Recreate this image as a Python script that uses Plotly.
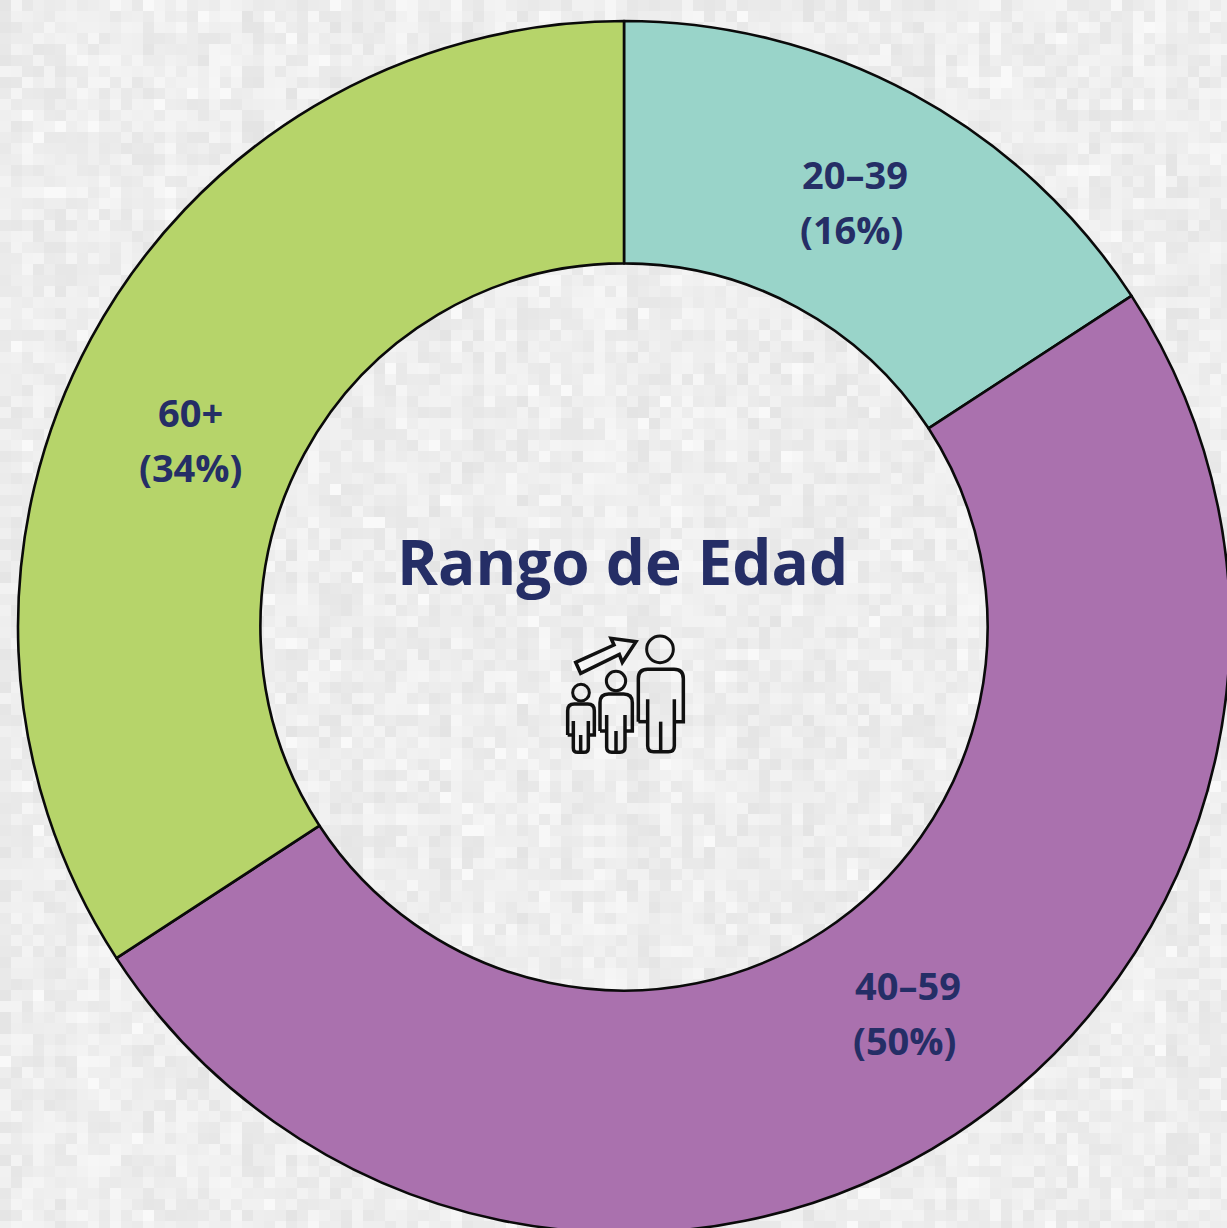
import base64, math, struct, zlib
import plotly.graph_objects as go

# ---- data ----
age_groups = ["20–39", "40–59", "60+"]
shares = [15.8, 50.0, 34.2]
slice_colors = ["#99d4c9", "#aa71ae", "#b6d46a"]
title_text = "Rango de Edad"

# ---- canvas (slightly larger than the window: the ring is cropped right/bottom) ----
W, H = 1230, 1234
INK = "#252e66"
FONT = "Open Sans"

def X(px):
    return px / W

def Y(py):
    return 1 - py / H

def path(points):
    return " ".join(
        f"{cmd}{' '.join(f'{X(540 + a / 3):.5f},{Y(620 + b / 3):.5f}' for a, b in pts)}"
        for cmd, pts in points
    )

def person(l, r, il, ir, top, arm, armtop, bot, c, a, b):
    """Outline of a person, in units of the zoomed icon."""
    return [
        path([("M", [(l, arm)]), ("L", [(l, top + a)]), ("Q", [(l, top), (l + a, top)]),
              ("L", [(r - a, top)]), ("Q", [(r, top), (r, top + a)]), ("L", [(r, arm)]),
              ("L", [(ir, arm)])]),
        path([("M", [(ir, armtop)]), ("L", [(ir, bot - b)]), ("Q", [(ir, bot), (ir - b, bot)]),
              ("L", [(il + b, bot)]), ("Q", [(il, bot), (il, bot - b)]), ("L", [(il, armtop)])]),
        path([("M", [(il, arm)]), ("L", [(l, arm)])]),
        path([("M", [(c, arm)]), ("L", [(c, bot)])]),
    ]

def head(cx, cy, r):
    return dict(type="circle", xref="paper", yref="paper",
                x0=X(540 + (cx - r) / 3), x1=X(540 + (cx + r) / 3),
                y0=Y(620 + (cy + r) / 3), y1=Y(620 + (cy - r) / 3),
                line=dict(color="#111111", width=3))

icon_paths = (
    person(295, 430, 323, 403, 148, 305, 238, 395, 362, 28, 18)
    + person(180, 277, 200, 255, 222, 333, 285, 397, 228, 26, 15)
    + person(83, 163, 100, 145, 252, 345, 303, 397, 122, 20, 13)
    + [path([("M", [(107, 127)]), ("L", [(222, 75)]), ("L", [(213, 55)]), ("L", [(288, 65)]),
             ("L", [(247, 127)]), ("L", [(238, 103)]), ("L", [(122, 160)])]) + " Z"]
)
shapes = [dict(type="path", xref="paper", yref="paper", path=p,
               line=dict(color="#111111", width=3.5)) for p in icon_paths]
shapes += [head(360, 88, 40), head(228, 183, 29), head(123, 218, 25)]

# ---- mottled paper background (decorative, deterministic) ----
def paper_png():
    cell = 11
    rows = []
    for y in range(H):
        row = bytearray([0])
        j = y // cell
        for x in range(W):
            i = x // cell
            v = math.sin(i * 12.9898 + j * 78.233) * 43758.5453
            v -= math.floor(v)
            w = math.sin(i * 4.1414 + 2.7) * 9631.17
            w -= math.floor(w)
            g = int(228 + 15 * v + 6 * w)
            if v > 0.985:
                g = 249
            row += bytes([g, g, g])
        rows.append(bytes(row))
    def chunk(t, d):
        return struct.pack(">I", len(d)) + t + d + struct.pack(">I", zlib.crc32(t + d))
    raw = b"\x89PNG\r\n\x1a\n" + chunk(b"IHDR", struct.pack(">IIBBBBB", W, H, 8, 2, 0, 0, 0)) \
        + chunk(b"IDAT", zlib.compress(b"".join(rows), 9)) + chunk(b"IEND", b"")
    return "data:image/png;base64," + base64.b64encode(raw).decode()

# ---- figure ----
fig = go.Figure(go.Pie(
    labels=age_groups,
    values=shares,
    hole=0.6,
    sort=False,
    direction="clockwise",
    rotation=0,
    textinfo="none",
    hoverinfo="label+percent",
    showlegend=False,
    marker=dict(colors=slice_colors, line=dict(color="#0a0a0a", width=2.6)),
    domain=dict(x=[X(18), X(1230)], y=[Y(1233), Y(21)]),
))

# centres of the two text lines of each label, in page pixels
label_pos = [(855, 174, 851, 229), (908, 985, 904, 1040), (190, 412, 190, 467)]
annotations = []
for name, pct, (x1, y1, x2, y2) in zip(age_groups, shares, label_pos):
    for text, x, y in ((name, x1, y1), (f"({round(pct)}%)", x2, y2)):
        annotations.append(dict(
            text=text, xref="paper", yref="paper", x=X(x), y=Y(y),
            xanchor="center", yanchor="middle", showarrow=False,
            font=dict(family=FONT, size=38, color=INK, weight=700),
        ))
annotations.append(dict(
    text=title_text, xref="paper", yref="paper", x=X(622), y=Y(561),
    xanchor="center", yanchor="middle", showarrow=False,
    font=dict(family=FONT, size=62, color=INK, weight=700),
))

fig.update_layout(
    width=W, height=H,
    margin=dict(l=0, r=0, t=0, b=0),
    paper_bgcolor="#ebebeb",
    plot_bgcolor="rgba(0,0,0,0)",
    shapes=shapes,
    annotations=annotations,
    images=[dict(source=paper_png(), xref="paper", yref="paper", x=0, y=1,
                 sizex=1, sizey=1, xanchor="left", yanchor="top",
                 sizing="stretch", layer="below")],
)

fig.write_html(
    "out.html",
    config=dict(displayModeBar=False),
    post_script="document.documentElement.style.overflow='hidden';"
                "document.body.style.overflow='hidden';document.body.style.margin='0';",
)
